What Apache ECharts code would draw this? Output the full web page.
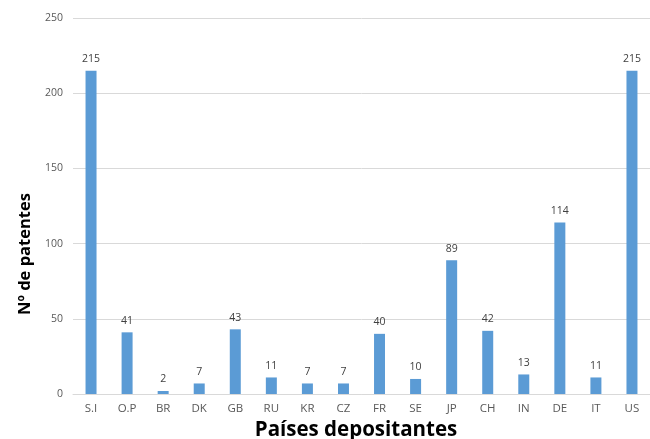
<!DOCTYPE html>
<html>
<head>
<meta charset="utf-8">
<script src="https://cdn.jsdelivr.net/npm/echarts@6/dist/echarts.min.js"></script>
<style>
html,body{margin:0;padding:0;background:#fff;}
#chart{width:650px;height:439px;}
</style>
</head>
<body>
<div id="chart"></div>
<script>
// Countries of origin and number of patents filed
const countries = ['S.I', 'O.P', 'BR', 'DK', 'GB', 'RU', 'KR', 'CZ', 'FR', 'SE', 'JP', 'CH', 'IN', 'DE', 'IT', 'US'];
const patents = [215, 41, 2, 7, 43, 11, 7, 7, 40, 10, 89, 42, 13, 114, 11, 215];
const yTicks = [0, 50, 100, 150, 200, 250];
const xTitle = 'Países depositantes';
const yTitle = 'Nº de patentes';

const chart = echarts.init(document.getElementById('chart'));
chart.setOption({
  animation: false,
  grid: { left: 73, right: 0, top: 18, bottom: 45, containLabel: false, outerBoundsMode: 'none' },
  graphic: [{
    type: 'text',
    x: 25,
    y: 254,
    rotation: Math.PI / 2,
    style: {
      text: yTitle,
      fontFamily: 'Open Sans',
      fontWeight: 'bold',
      fontSize: 16.5,
      fill: '#000',
      align: 'center',
      verticalAlign: 'middle'
    }
  }],
  xAxis: {
    type: 'category',
    data: countries,
    name: xTitle,
    nameLocation: 'middle',
    nameGap: 24,
    nameTextStyle: { fontFamily: 'Open Sans', fontWeight: 'bold', fontSize: 20.5, color: '#000', padding: [0, 11, 0, 0] },
    axisLine: { lineStyle: { color: '#d9d9d9', width: 1 } },
    axisTick: { show: false },
    axisLabel: { fontFamily: 'Open Sans', fontSize: 11.5, color: '#595959', margin: 9 }
  },
  yAxis: {
    type: 'value',
    min: yTicks[0],
    max: yTicks[yTicks.length - 1],
    interval: 50,
    axisLine: { show: false },
    axisTick: { show: false },
    axisLabel: { fontFamily: 'Open Sans', fontSize: 10.5, color: '#595959', margin: 10 },
    splitLine: { lineStyle: { color: '#d9d9d9', width: 1 } }
  },
  series: [{
    type: 'bar',
    data: patents,
    barWidth: 11,
    itemStyle: { color: '#5b9bd5' },
    label: {
      show: true,
      position: 'top',
      distance: 6,
      fontFamily: 'Open Sans',
      fontSize: 10.5,
      color: '#404040'
    }
  }]
});
</script>
</body>
</html>
